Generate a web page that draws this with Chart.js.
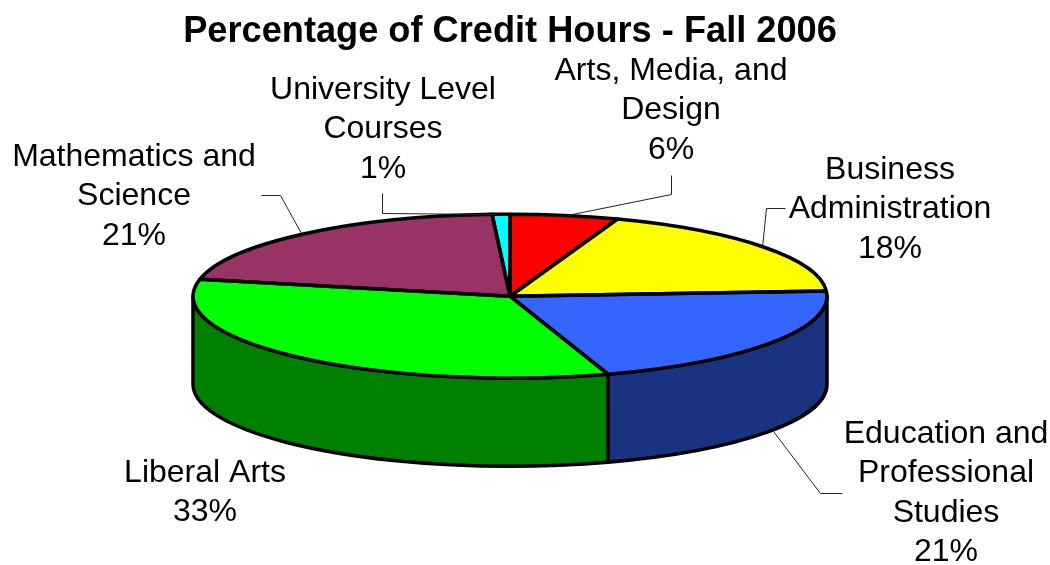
<!DOCTYPE html>
<html>
<head>
<meta charset="utf-8">
<style>html,body{margin:0;padding:0;background:#fff}#wrap{width:1050px;height:565px}</style>
<script src="https://cdn.jsdelivr.net/npm/chart.js@4"></script>
</head>
<body>
<div id="wrap"><canvas id="c" width="1050" height="565"></canvas></div>
<script>
const titleText = "Percentage of Credit Hours - Fall 2006";
const categories = ["Arts, Media, and Design","Business Administration","Education and Professional Studies","Liberal Arts","Mathematics and Science","University Level Courses"];
const shares = [5.5, 18.5, 21, 33.3, 20.8, 0.9];
const percentLabels = ["6%","18%","21%","33%","21%","1%"];
const labelLines = [["Arts, Media, and","Design"],["Business","Administration"],["Education and","Professional","Studies"],["Liberal Arts"],["Mathematics and","Science"],["University Level","Courses"]];
const topColors = ["#FF0000","#FFFF00","#3366FF","#00FF00","#993366","#00FFFF"];
const wallColors = ["#800000","#808000","#1A3380","#008000","#4D1A33","#008080"];

const SQUASH = 82/317, DEPTH = 88, FONT = '32px "Liberation Sans", Arial, sans-serif';
const labelAnchors = [
  {x:671,y:71},{x:890,y:170},{x:946,y:434},{x:205,y:473},{x:134,y:157},{x:383,y:90}
];
const leaders = [
  [[671,175],[671,194],[567,215]],
  [[785,208],[766,208],[762,247]],
  [[773,431],[820,493],[842,493]],
  null,
  [[261,195],[280,195],[301,233]],
  [[382,193],[382,213],[495,214]]
];

const pie3d = {
  id:'pie3d',
  beforeDatasetsDraw(chart){
    const arcs = chart.getDatasetMeta(0).data, ctx = chart.ctx;
    const {x:cx,y:cy,outerRadius:r} = arcs[0];
    const ry = r*SQUASH;
    ctx.save();
    ctx.lineWidth = 3.5; ctx.strokeStyle = '#000'; ctx.lineJoin = 'round';
    arcs.forEach((a,i)=>{
      const e = Math.min(a.endAngle,Math.PI);
      const lo = Math.max(a.startAngle,0);
      if (e<=lo) return;
      ctx.beginPath();
      ctx.ellipse(cx,cy,r,ry,0,lo,e);
      ctx.ellipse(cx,cy+DEPTH,r,ry,0,e,lo,true);
      ctx.closePath();
      ctx.fillStyle = wallColors[i];
      ctx.fill(); ctx.stroke();
    });
    ctx.restore();
    ctx.save();
    ctx.translate(cx,cy); ctx.scale(1,SQUASH); ctx.translate(-cx,-cy);
  },
  afterDatasetsDraw(chart){
    const arcs = chart.getDatasetMeta(0).data, ctx = chart.ctx;
    ctx.restore();
    const {x:cx,y:cy,outerRadius:r} = arcs[0];
    const ry = r*SQUASH;
    ctx.save();
    ctx.lineWidth = 3.5; ctx.strokeStyle = '#000'; ctx.lineJoin = 'round';
    arcs.forEach(a=>{
      ctx.beginPath();
      ctx.moveTo(cx,cy);
      ctx.ellipse(cx,cy,r,ry,0,a.startAngle,a.endAngle);
      ctx.closePath();
      ctx.stroke();
    });
    ctx.restore();
    ctx.save();
    ctx.lineWidth = 1; ctx.strokeStyle = '#222';
    leaders.forEach(p=>{
      if(!p) return;
      ctx.beginPath();
      p.forEach((q,k)=> k?ctx.lineTo(q[0]+.5,q[1]+.5):ctx.moveTo(q[0]+.5,q[1]+.5));
      ctx.stroke();
    });
    ctx.font = FONT; ctx.fillStyle = '#000'; ctx.textAlign = 'center'; ctx.textBaseline = 'middle';
    labelLines.forEach((lines,i)=>{
      const all = lines.concat(percentLabels[i]);
      all.forEach((t,k)=> ctx.fillText(t,labelAnchors[i].x,labelAnchors[i].y+k*39.5));
    });
    ctx.restore();
  }
};

new Chart(document.getElementById('c'),{
  type:'pie',
  data:{labels:categories,datasets:[{data:shares,backgroundColor:topColors,borderWidth:0,hoverOffset:0}]},
  options:{
    responsive:false,animation:false,
    radius:317,
    layout:{padding:{left:0,right:30,top:10,bottom:26}},
    events:[],
    plugins:{
      legend:{display:false},tooltip:{enabled:false},
      title:{display:true,text:titleText,color:'#000',
        font:{family:'"Liberation Sans", Arial, sans-serif',size:36.2,weight:'bold'},
        padding:{top:0,bottom:0}}
    }
  },
  plugins:[pie3d]
});
</script>
</body>
</html>
